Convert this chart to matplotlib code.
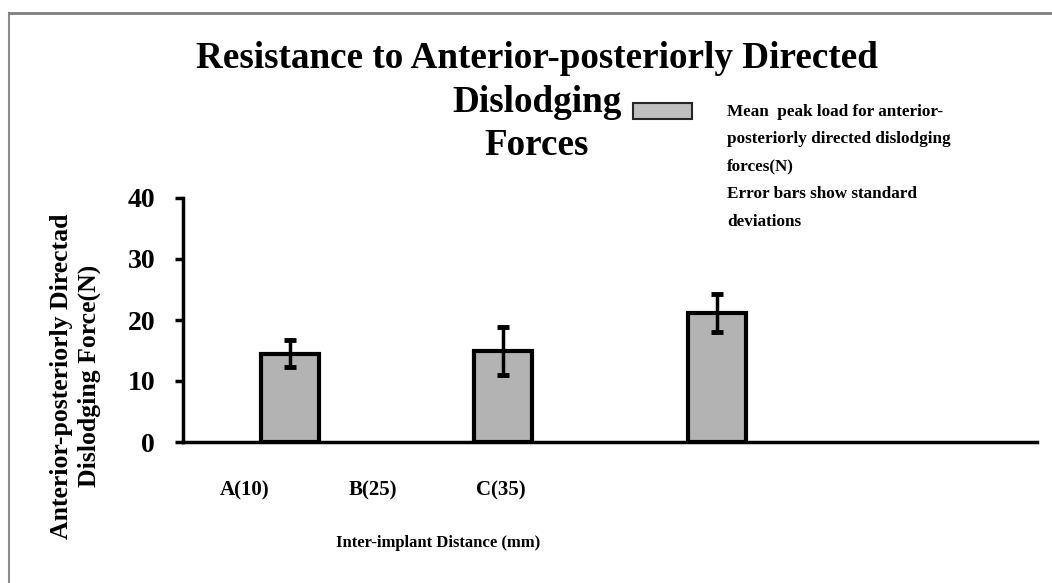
import matplotlib.pyplot as plt
from matplotlib.lines import Line2D
from matplotlib.patches import Rectangle

# data
categories = ["A(10)", "B(25)", "C(35)", ""]
means = [14.5, 14.9, 21.2]
sds = [2.2, 3.9, 3.1]
# tick labels in the original sit left of the bars
label_pos = [-0.21, 0.39, 0.99]
label_txt = ["A(10)", "B(25)", "C(35)"]
legend_txt = ("Mean  peak load for anterior-\nposteriorly directed dislodging\n"
              "forces(N)\nError bars show standard\ndeviations")

plt.rcParams['font.family'] = ['Liberation Serif', 'DejaVu Serif']
plt.rcParams['font.weight'] = 'bold'

W, H = 1052, 583
fig = plt.figure(figsize=(W / 100, H / 100), dpi=100)
ax = fig.add_axes([183 / W, 1 - 442 / H, (1037 - 183) / W, (442 - 198) / H])

x = list(range(len(means)))
ax.bar(x, means, width=0.27, color='#b3b3b3', edgecolor='black', linewidth=3)
ax.errorbar(x, means, yerr=sds, fmt='none', ecolor='black',
            elinewidth=2.5, capsize=4, capthick=3.5)

ax.set_xlim(-0.5, len(categories) - 0.5)
ax.set_ylim(0, 40)
ax.set_yticks([0, 10, 20, 30, 40])
ax.tick_params(axis='y', labelsize=20, width=2.5, length=6, pad=14)
ax.set_xticks(label_pos)
ax.set_xticklabels(label_txt, fontsize=15)
ax.tick_params(axis='x', length=0, pad=28)
for s in ['top', 'right']:
    ax.spines[s].set_visible(False)
for s in ['left', 'bottom']:
    ax.spines[s].set_linewidth(2.5)

fig.text(438 / W, 1 - 543 / H, "Inter-implant Distance (mm)", ha='center', va='center',
         fontsize=12, fontweight='bold')
fig.text(75.5 / W, 1 - 376 / H, "Anterior-posteriorly Directad\nDislodging Force(N)",
         ha='center', va='center', rotation=90, fontsize=18.5, fontweight='bold',
         linespacing=1.3)

# title lines
for txt, yb in [("Resistance to Anterior-posteriorly Directed", 68),
                ("Dislodging", 112), ("Forces", 155)]:
    fig.text(537 / W, 1 - yb / H, txt, ha='center', va='baseline', fontsize=26.7,
             fontweight='bold')

# legend
fig.add_artist(Rectangle((633 / W, 1 - 119 / H), 59 / W, 16 / H, transform=fig.transFigure,
                         facecolor='#bfbfbf', edgecolor='#262626', linewidth=1.5))
fig.text(727 / W, 1 - 104 / H, legend_txt, ha='left', va='top', fontsize=12.3,
         fontweight='bold', linespacing=1.95)

# outer frame
fig.add_artist(Line2D([9 / W, 9 / W], [0, 1 - 13 / H], color='#8c8c8c', lw=1.5))
fig.add_artist(Line2D([9 / W, 1], [1 - 13 / H, 1 - 13 / H], color='#808080', lw=2))

fig.savefig("out.png", dpi=100)
